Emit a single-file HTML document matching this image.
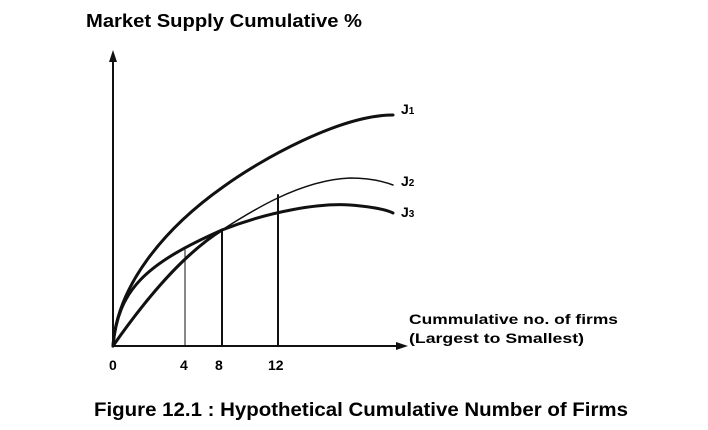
<!DOCTYPE html>
<html><head><style>
body{margin:0;background:#fff;}
svg{display:block;font-family:"Liberation Sans",Arial,sans-serif;font-weight:bold;}
</style></head><body>
<svg width="708" height="430" viewBox="0 0 708 430">
<text x="86" y="27" font-size="18" textLength="276" lengthAdjust="spacingAndGlyphs">Market Supply Cumulative %</text>
<g stroke="#111" fill="none" stroke-linecap="round">
<line x1="113" y1="346" x2="113" y2="58" stroke-width="2"/>
<line x1="113" y1="346" x2="400" y2="346" stroke-width="2"/>
<path d="M113,346 C117,285 165,228 223,187 C260,160 340,115 393,115" stroke-width="3"/>
<path d="M113,346 C118,290 145,264 222,230 C270,211 320,203 350,205 C375,207 387,210 393,213" stroke-width="3"/>
<path d="M113,346 C145,300 182,255 222,230" stroke-width="3"/>
<path d="M222,230 C250,212 300,180 350,178 C372,178 385,182 393,185" stroke-width="1.5"/>
<line x1="185" y1="346" x2="185" y2="250" stroke-width="1"/>
<line x1="222" y1="346" x2="222" y2="230" stroke-width="2"/>
<line x1="278" y1="346" x2="278" y2="195" stroke-width="2"/>
</g>
<polygon points="113,50 109,62 117,62" fill="#111"/>
<polygon points="408,346 396,342 396,350" fill="#111"/>
<g font-size="14">
<text x="401" y="114">J<tspan font-size="10">1</tspan></text>
<text x="401" y="186">J<tspan font-size="10">2</tspan></text>
<text x="401" y="217">J<tspan font-size="10">3</tspan></text>
<text x="409" y="324" textLength="209" lengthAdjust="spacingAndGlyphs">Cummulative no. of firms</text>
<text x="409" y="343" textLength="175" lengthAdjust="spacingAndGlyphs">(Largest to Smallest)</text>
<text x="109" y="370">0</text>
<text x="180" y="370">4</text>
<text x="215" y="370">8</text>
<text x="268" y="370">12</text>
</g>
<text x="94" y="416" font-size="19" textLength="534" lengthAdjust="spacingAndGlyphs">Figure 12.1 : Hypothetical Cumulative Number of Firms</text>
</svg>
</body></html>
